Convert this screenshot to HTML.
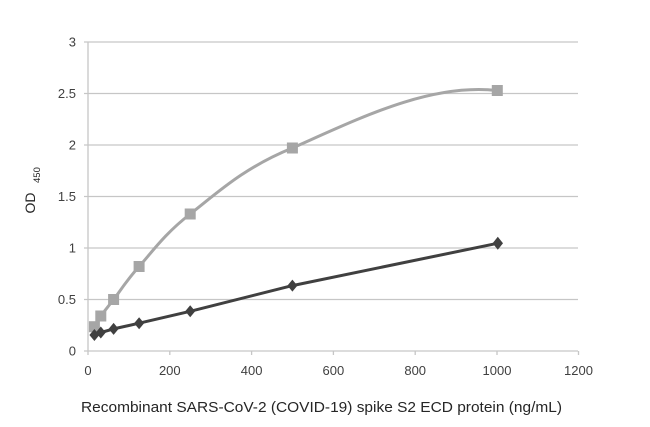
<!DOCTYPE html>
<html>
<head>
<meta charset="utf-8">
<style>
  html, body { margin: 0; padding: 0; background: #ffffff; }
  svg { display: block; }
  text { font-family: "Liberation Sans", "DejaVu Sans", sans-serif; }
</style>
</head>
<body>
<svg width="650" height="427" viewBox="0 0 650 427" xmlns="http://www.w3.org/2000/svg">
  <rect width="650" height="427" fill="#ffffff"/>
  <!-- gridlines -->
  <g stroke="#c6c6c6" stroke-width="1.3" fill="none">
    <line x1="84" y1="42" x2="578" y2="42"/>
    <line x1="84" y1="93.5" x2="578" y2="93.5"/>
    <line x1="84" y1="145" x2="578" y2="145"/>
    <line x1="84" y1="196.5" x2="578" y2="196.5"/>
    <line x1="84" y1="248" x2="578" y2="248"/>
    <line x1="84" y1="299.5" x2="578" y2="299.5"/>
    <line x1="84" y1="351" x2="578" y2="351"/>
    <!-- y axis -->
    <line x1="88" y1="42" x2="88" y2="355"/>
    <!-- x ticks -->
    <line x1="169.8" y1="351" x2="169.8" y2="355"/>
    <line x1="251.6" y1="351" x2="251.6" y2="355"/>
    <line x1="333.4" y1="351" x2="333.4" y2="355"/>
    <line x1="415.2" y1="351" x2="415.2" y2="355"/>
    <line x1="497" y1="351" x2="497" y2="355"/>
    <line x1="578.5" y1="351" x2="578.5" y2="355"/>
  </g>

  <!-- y tick labels -->
  <g fill="#404040" font-size="13" text-anchor="end">
    <text x="76" y="46.5">3</text>
    <text x="76" y="98">2.5</text>
    <text x="76" y="149.5">2</text>
    <text x="76" y="201">1.5</text>
    <text x="76" y="252.5">1</text>
    <text x="76" y="304">0.5</text>
    <text x="76" y="355.5">0</text>
  </g>

  <!-- x tick labels -->
  <g fill="#404040" font-size="13" text-anchor="middle">
    <text x="88" y="375">0</text>
    <text x="169.8" y="375">200</text>
    <text x="251.6" y="375">400</text>
    <text x="333.4" y="375">600</text>
    <text x="415.2" y="375">800</text>
    <text x="497" y="375">1000</text>
    <text x="578.5" y="375">1200</text>
  </g>

  <!-- axis titles -->
  <text x="81" y="412" font-size="14.5" fill="#262626" textLength="481" lengthAdjust="spacingAndGlyphs">Recombinant SARS-CoV-2 (COVID-19) spike S2 ECD protein (ng/mL)</text>
  <text transform="translate(35,213.5) rotate(-90)" font-size="14" fill="#262626">OD</text>
  <text transform="translate(40,183) rotate(-90)" font-size="9.5" fill="#262626">450</text>

  <!-- light series: smoothed curve -->
  <path d="M94.4,326.7 C95.5,324.9 97.6,320.5 100.8,316
           C104.0,311.5 107.2,307.75 113.6,299.5
           C120.0,291.25 126.3,280.75 139.1,266.5
           C151.9,252.25 164.65,233.75 190.2,214
           C215.75,194.25 243,168 292.4,148
           C360,118 430,83 497,90.5"
        fill="none" stroke="#a6a6a6" stroke-width="3" stroke-linejoin="round" stroke-linecap="round"/>
  <g fill="#a6a6a6">
    <rect x="88.9" y="321.2" width="11" height="11"/>
    <rect x="95.3" y="310.5" width="11" height="11"/>
    <rect x="108.1" y="294" width="11" height="11"/>
    <rect x="133.6" y="261" width="11" height="11"/>
    <rect x="184.7" y="208.5" width="11" height="11"/>
    <rect x="286.9" y="142.5" width="11" height="11"/>
    <rect x="491.8" y="85" width="11" height="11"/>
  </g>

  <!-- dark series -->
  <polyline points="94.4,335 100.8,332.5 113.6,328.9 139.1,323.2 190.2,311.3 292.4,285.6 497.5,243.3"
            fill="none" stroke="#404040" stroke-width="3" stroke-linejoin="round"/>
  <g fill="#404040">
    <path d="M94.4,329 L99.4,335 L94.4,341 L89.4,335 Z"/>
    <path d="M100.8,326.5 L105.8,332.5 L100.8,338.5 L95.8,332.5 Z"/>
    <path d="M113.6,322.9 L118.6,328.9 L113.6,334.9 L108.6,328.9 Z"/>
    <path d="M139.1,317.2 L144.1,323.2 L139.1,329.2 L134.1,323.2 Z"/>
    <path d="M190.2,305.3 L195.2,311.3 L190.2,317.3 L185.2,311.3 Z"/>
    <path d="M292.4,279.6 L297.4,285.6 L292.4,291.6 L287.4,285.6 Z"/>
    <path d="M497.8,236.8 L503,243.3 L497.8,249.8 L492.6,243.3 Z"/>
  </g>
</svg>
</body>
</html>
